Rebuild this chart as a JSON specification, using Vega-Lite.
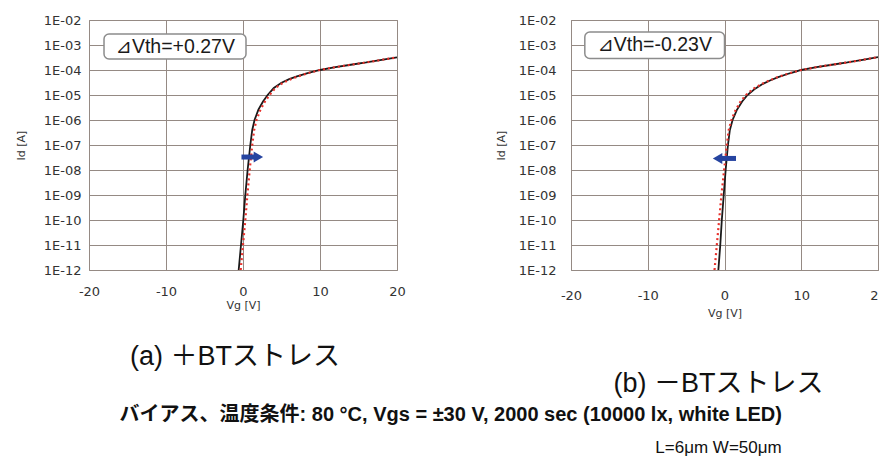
{
  "$schema": "https://vega.github.io/schema/vega-lite/v6.json",
  "padding": {"left": 14, "top": 13, "right": 0, "bottom": 0},
  "title": {"text": "バイアス、温度条件: 80 °C, Vgs = ±30 V, 2000 sec (10000 lx, white LED)", "orient": "bottom", "anchor": "middle", "offset": -52, "fontSize": 20, "fontWeight": "bold", "font": "Liberation Sans, Noto Sans CJK JP", "color": "#111111"},
  "datasets": {
    "curves": [
      {"panel": "a", "series": "before", "vg": -0.56, "id": 1e-12},
      {"panel": "a", "series": "before", "vg": -0.26, "id": 1e-11},
      {"panel": "a", "series": "before", "vg": 0.04, "id": 1e-10},
      {"panel": "a", "series": "before", "vg": 0.3, "id": 1e-9},
      {"panel": "a", "series": "before", "vg": 0.6, "id": 1e-8},
      {"panel": "a", "series": "before", "vg": 0.95, "id": 1e-7},
      {"panel": "a", "series": "before", "vg": 1.2, "id": 4e-7},
      {"panel": "a", "series": "before", "vg": 1.5, "id": 1e-6},
      {"panel": "a", "series": "before", "vg": 2.0, "id": 2.6e-6},
      {"panel": "a", "series": "before", "vg": 2.6, "id": 5.5e-6},
      {"panel": "a", "series": "before", "vg": 3.2, "id": 1e-5},
      {"panel": "a", "series": "before", "vg": 4, "id": 1.9e-5},
      {"panel": "a", "series": "before", "vg": 5, "id": 3.1e-5},
      {"panel": "a", "series": "before", "vg": 6, "id": 4.3e-5},
      {"panel": "a", "series": "before", "vg": 7, "id": 5.6e-5},
      {"panel": "a", "series": "before", "vg": 8.5, "id": 7.7e-5},
      {"panel": "a", "series": "before", "vg": 10, "id": 1e-4},
      {"panel": "a", "series": "before", "vg": 12, "id": 1.3e-4},
      {"panel": "a", "series": "before", "vg": 14, "id": 1.62e-4},
      {"panel": "a", "series": "before", "vg": 16, "id": 2e-4},
      {"panel": "a", "series": "before", "vg": 18, "id": 2.55e-4},
      {"panel": "a", "series": "before", "vg": 20, "id": 3.2e-4},
      {"panel": "a", "series": "after", "vg": -0.3, "id": 1e-12},
      {"panel": "a", "series": "after", "vg": 0.0, "id": 1e-11},
      {"panel": "a", "series": "after", "vg": 0.3, "id": 1e-10},
      {"panel": "a", "series": "after", "vg": 0.57, "id": 1e-9},
      {"panel": "a", "series": "after", "vg": 0.87, "id": 1e-8},
      {"panel": "a", "series": "after", "vg": 1.2, "id": 1e-7},
      {"panel": "a", "series": "after", "vg": 1.45, "id": 4e-7},
      {"panel": "a", "series": "after", "vg": 1.75, "id": 1e-6},
      {"panel": "a", "series": "after", "vg": 2.25, "id": 2.5e-6},
      {"panel": "a", "series": "after", "vg": 2.85, "id": 5.5e-6},
      {"panel": "a", "series": "after", "vg": 3.45, "id": 1e-5},
      {"panel": "a", "series": "after", "vg": 4.2, "id": 1.9e-5},
      {"panel": "a", "series": "after", "vg": 5.2, "id": 3.1e-5},
      {"panel": "a", "series": "after", "vg": 6.2, "id": 4.3e-5},
      {"panel": "a", "series": "after", "vg": 7.2, "id": 5.6e-5},
      {"panel": "a", "series": "after", "vg": 8.5, "id": 7.6e-5},
      {"panel": "a", "series": "after", "vg": 10, "id": 1e-4},
      {"panel": "a", "series": "after", "vg": 12, "id": 1.3e-4},
      {"panel": "a", "series": "after", "vg": 14, "id": 1.62e-4},
      {"panel": "a", "series": "after", "vg": 16, "id": 2e-4},
      {"panel": "a", "series": "after", "vg": 18, "id": 2.55e-4},
      {"panel": "a", "series": "after", "vg": 20, "id": 3.2e-4},
      {"panel": "b", "series": "before", "vg": -0.8, "id": 1e-12},
      {"panel": "b", "series": "before", "vg": -0.55, "id": 1e-11},
      {"panel": "b", "series": "before", "vg": -0.35, "id": 1e-10},
      {"panel": "b", "series": "before", "vg": -0.1, "id": 1e-9},
      {"panel": "b", "series": "before", "vg": 0.15, "id": 1e-8},
      {"panel": "b", "series": "before", "vg": 0.45, "id": 1e-7},
      {"panel": "b", "series": "before", "vg": 0.7, "id": 4e-7},
      {"panel": "b", "series": "before", "vg": 1.05, "id": 1e-6},
      {"panel": "b", "series": "before", "vg": 1.6, "id": 2.5e-6},
      {"panel": "b", "series": "before", "vg": 2.3, "id": 5.5e-6},
      {"panel": "b", "series": "before", "vg": 3.0, "id": 1e-5},
      {"panel": "b", "series": "before", "vg": 4, "id": 1.8e-5},
      {"panel": "b", "series": "before", "vg": 5, "id": 2.8e-5},
      {"panel": "b", "series": "before", "vg": 6, "id": 3.9e-5},
      {"panel": "b", "series": "before", "vg": 7, "id": 5.2e-5},
      {"panel": "b", "series": "before", "vg": 8.5, "id": 7.4e-5},
      {"panel": "b", "series": "before", "vg": 10, "id": 1e-4},
      {"panel": "b", "series": "before", "vg": 12, "id": 1.3e-4},
      {"panel": "b", "series": "before", "vg": 14, "id": 1.62e-4},
      {"panel": "b", "series": "before", "vg": 16, "id": 2e-4},
      {"panel": "b", "series": "before", "vg": 18, "id": 2.55e-4},
      {"panel": "b", "series": "before", "vg": 20, "id": 3.3e-4},
      {"panel": "b", "series": "after", "vg": -1.3, "id": 1e-12},
      {"panel": "b", "series": "after", "vg": -1.0, "id": 1e-11},
      {"panel": "b", "series": "after", "vg": -0.7, "id": 1e-10},
      {"panel": "b", "series": "after", "vg": -0.4, "id": 1e-9},
      {"panel": "b", "series": "after", "vg": -0.05, "id": 1e-8},
      {"panel": "b", "series": "after", "vg": 0.3, "id": 1e-7},
      {"panel": "b", "series": "after", "vg": 0.55, "id": 4e-7},
      {"panel": "b", "series": "after", "vg": 0.9, "id": 1e-6},
      {"panel": "b", "series": "after", "vg": 1.45, "id": 2.5e-6},
      {"panel": "b", "series": "after", "vg": 2.1, "id": 5.5e-6},
      {"panel": "b", "series": "after", "vg": 2.8, "id": 1e-5},
      {"panel": "b", "series": "after", "vg": 3.8, "id": 1.8e-5},
      {"panel": "b", "series": "after", "vg": 4.9, "id": 2.8e-5},
      {"panel": "b", "series": "after", "vg": 6, "id": 4e-5},
      {"panel": "b", "series": "after", "vg": 7, "id": 5.3e-5},
      {"panel": "b", "series": "after", "vg": 8.5, "id": 7.5e-5},
      {"panel": "b", "series": "after", "vg": 10, "id": 1e-4},
      {"panel": "b", "series": "after", "vg": 12, "id": 1.3e-4},
      {"panel": "b", "series": "after", "vg": 14, "id": 1.62e-4},
      {"panel": "b", "series": "after", "vg": 16, "id": 2e-4},
      {"panel": "b", "series": "after", "vg": 18, "id": 2.55e-4},
      {"panel": "b", "series": "after", "vg": 20, "id": 3.3e-4}
    ],
    "boxes": [
      {"panel": "a", "vg": -18.05, "vg2": 0.39, "id": 2.75e-3, "id2": 2.75e-4},
      {"panel": "b", "vg": -18.2, "vg2": 0.0, "id": 3.3e-3, "id2": 2.9e-4}
    ],
    "labels": [
      {"panel": "a", "vg": -8.8, "id": 8.7e-4, "label": "⊿Vth=+0.27V"},
      {"panel": "b", "vg": -9.1, "id": 9.8e-4, "label": "⊿Vth=-0.23V"}
    ],
    "shafts": [
      {"panel": "a", "vg": -0.2, "vg2": 1.6, "id": 3.3e-8},
      {"panel": "b", "vg": -0.4, "vg2": 1.5, "id": 2.9e-8}
    ],
    "heads": [
      {"panel": "a", "vg": 2.0, "id": 3.3e-8, "shape": "triangle-right"},
      {"panel": "b", "vg": -0.9, "id": 2.9e-8, "shape": "triangle-left"}
    ]
  },
  "spacing": 88,
  "hconcat": [
    {
      "width": 308,
      "height": 250,
      "title": {"text": "(a) ＋BTストレス", "orient": "bottom", "anchor": "middle", "offset": 34, "dx": -8, "fontSize": 27, "fontWeight": "normal", "font": "Liberation Sans, Noto Sans CJK JP", "color": "#111111"},
      "encoding": {
        "x": {"field": "vg", "type": "quantitative", "scale": {"domain": [-20, 20], "nice": false, "zero": false},
              "axis": {"title": "Vg [V]", "values": [-20, -10, 0, 10, 20], "labelExpr": "'' + datum.value", "labelFlush": false, "labelPadding": 15, "titlePadding": 1}},
        "y": {"field": "id", "type": "quantitative", "scale": {"type": "log", "domain": [1e-12, 1e-2], "nice": false},
              "axis": {"title": "Id [A]", "values": [1e-12, 1e-11, 1e-10, 1e-9, 1e-8, 1e-7, 1e-6, 1e-5, 1e-4, 1e-3, 1e-2], "labelExpr": "'1E-' + (round(-log(datum.value)/LN10) < 10 ? '0' : '') + round(-log(datum.value)/LN10)", "labelPadding": 8, "titlePadding": 17}}
      },
      "layer": [
        {"data": {"name": "boxes"}, "transform": [{"filter": "datum.panel == 'a'"}],
         "mark": {"type": "rect", "cornerRadius": 5, "fill": "white", "stroke": "#8c8c8c", "strokeWidth": 1.5},
         "encoding": {"x2": {"field": "vg2"}, "y2": {"field": "id2"}}},
        {"data": {"name": "labels"}, "transform": [{"filter": "datum.panel == 'a'"}],
         "mark": {"type": "text", "fontSize": 19.5, "font": "Liberation Sans, DejaVu Sans", "color": "#1a1a1a"},
         "encoding": {"text": {"field": "label"}}},
        {"data": {"name": "curves"}, "transform": [{"filter": "datum.panel == 'a' && datum.series == 'before'"}],
         "mark": {"type": "line", "color": "#1a1a1a", "strokeWidth": 1.8, "clip": true},
         "encoding": {}},
        {"data": {"name": "curves"}, "transform": [{"filter": "datum.panel == 'a' && datum.series == 'after'"}],
         "mark": {"type": "line", "color": "#e8312c", "strokeWidth": 2.2, "strokeDash": [2, 3], "clip": true},
         "encoding": {}},
        {"data": {"name": "shafts"}, "transform": [{"filter": "datum.panel == 'a'"}],
         "mark": {"type": "rule", "color": "#2644a0", "strokeWidth": 5},
         "encoding": {"x2": {"field": "vg2"}}},
        {"data": {"name": "heads"}, "transform": [{"filter": "datum.panel == 'a'"}],
         "mark": {"type": "point", "filled": true, "color": "#2644a0", "size": 120, "opacity": 1},
         "encoding": {"shape": {"field": "shape", "type": "nominal", "scale": null}}}
      ]
    },
    {
      "width": 307,
      "height": 250,
      "title": {"text": "(b) －BTストレス", "subtitle": "L=6μm  W=50μm", "orient": "bottom", "anchor": "middle", "offset": 53, "dx": -6, "fontSize": 27, "fontWeight": "normal", "font": "Liberation Sans, Noto Sans CJK JP", "color": "#111111", "subtitleFontSize": 17, "subtitleFont": "Liberation Sans, Noto Sans CJK JP", "subtitleColor": "#111111", "subtitlePadding": 42},
      "encoding": {
        "x": {"field": "vg", "type": "quantitative", "scale": {"domain": [-20, 20], "nice": false, "zero": false},
              "axis": {"title": "Vg [V]", "values": [-20, -10, 0, 10, 20], "labelExpr": "'' + datum.value", "labelFlush": false, "labelPadding": 19, "titlePadding": 5}},
        "y": {"field": "id", "type": "quantitative", "scale": {"type": "log", "domain": [1e-12, 1e-2], "nice": false},
              "axis": {"title": "Id [A]", "values": [1e-12, 1e-11, 1e-10, 1e-9, 1e-8, 1e-7, 1e-6, 1e-5, 1e-4, 1e-3, 1e-2], "labelExpr": "'1E-' + (round(-log(datum.value)/LN10) < 10 ? '0' : '') + round(-log(datum.value)/LN10)", "labelPadding": 15, "titlePadding": 12}}
      },
      "layer": [
        {"data": {"name": "boxes"}, "transform": [{"filter": "datum.panel == 'b'"}],
         "mark": {"type": "rect", "cornerRadius": 5, "fill": "white", "stroke": "#8c8c8c", "strokeWidth": 1.5},
         "encoding": {"x2": {"field": "vg2"}, "y2": {"field": "id2"}}},
        {"data": {"name": "labels"}, "transform": [{"filter": "datum.panel == 'b'"}],
         "mark": {"type": "text", "fontSize": 19.5, "font": "Liberation Sans, DejaVu Sans", "color": "#1a1a1a"},
         "encoding": {"text": {"field": "label"}}},
        {"data": {"name": "curves"}, "transform": [{"filter": "datum.panel == 'b' && datum.series == 'before'"}],
         "mark": {"type": "line", "color": "#1a1a1a", "strokeWidth": 1.8, "clip": true},
         "encoding": {}},
        {"data": {"name": "curves"}, "transform": [{"filter": "datum.panel == 'b' && datum.series == 'after'"}],
         "mark": {"type": "line", "color": "#e8312c", "strokeWidth": 2.2, "strokeDash": [2, 3], "clip": true},
         "encoding": {}},
        {"data": {"name": "shafts"}, "transform": [{"filter": "datum.panel == 'b'"}],
         "mark": {"type": "rule", "color": "#2644a0", "strokeWidth": 5},
         "encoding": {"x2": {"field": "vg2"}}},
        {"data": {"name": "heads"}, "transform": [{"filter": "datum.panel == 'b'"}],
         "mark": {"type": "point", "filled": true, "color": "#2644a0", "size": 120, "opacity": 1},
         "encoding": {"shape": {"field": "shape", "type": "nominal", "scale": null}}}
      ]
    }
  ],
  "config": {
    "background": "white",
    "view": {"stroke": "#958a84", "strokeWidth": 1},
    "axis": {"grid": true, "gridColor": "#958a84", "gridOpacity": 1, "gridWidth": 1, "domain": false, "ticks": false, "labelFont": "DejaVu Sans", "labelFontSize": 13, "labelColor": "#333333", "labelOverlap": false, "titleFont": "DejaVu Sans", "titleFontSize": 11, "titleFontWeight": "normal", "titleColor": "#333333"}
  }
}
